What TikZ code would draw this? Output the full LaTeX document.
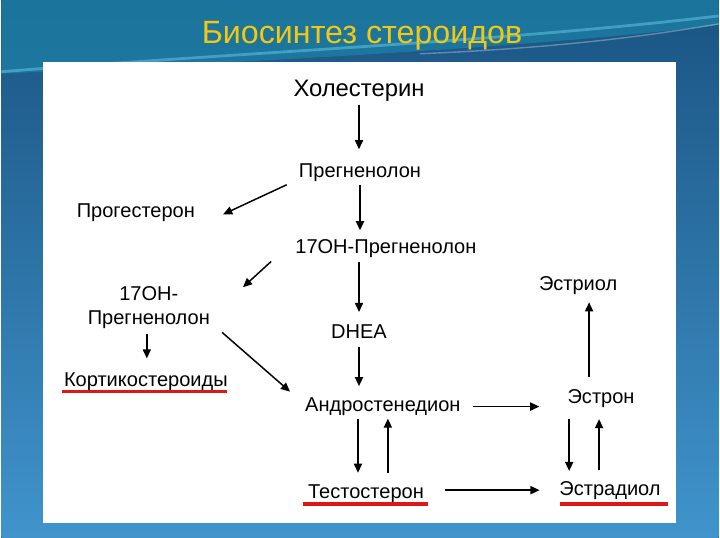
\documentclass[tikz,border=0pt]{standalone}
\usepackage{fontspec}
\setmainfont{Liberation Sans}
\usepackage{xcolor}
\usetikzlibrary{
  arrows.meta,
  calc
}

\definecolor{slideblue}{RGB}{26,84,130}
\definecolor{slidelight}{RGB}{64,148,204}
\definecolor{slideteal}{RGB}{28,128,164}
\definecolor{titlegold}{RGB}{242,200,18}
\definecolor{ulred}{RGB}{222,22,22}

\begin{document}
\begin{tikzpicture}[
  x=0.025cm, y=-0.025cm,
  font=\fontsize{14.3}{17.5}\selectfont,
  chem/.style={
    inner sep=0pt,
    anchor=base
  },
  arrow/.style={
    -{Triangle[length=6.5pt,width=5.8pt]},
    line width=1.05pt,
    draw=black
  },
  underl/.style={
    draw=ulred,
    line width=2.3pt
  }
]

% Background
\fill[top color=slideblue, bottom color=slidelight] (0,0) rectangle (720,540);
\fill[slideteal, opacity=0.75] (0,0) -- (720,0) -- (720,25) .. controls (560,45) and (300,60) .. (0,74) -- cycle;
\draw[cyan!55!white, opacity=0.45, line width=2pt] (0,72) .. controls (250,52) and (500,42) .. (720,16);
\draw[white, opacity=0.3, line width=1pt] (420,54) .. controls (560,48) and (650,36) .. (720,24);
\fill[white] (42,62) rectangle (677,525);

% Title
\node[font=\fontsize{23}{26}\selectfont, text=titlegold] (title) at (362,36) {Биосинтез стероидов};

% Main column
\node[chem, font=\fontsize{17}{20}\selectfont] (chol) at (359,97) {Холестерин};
\node[chem] (preg) at (360,178) {Прегненолон};
\node[chem] (ohp) at (386,254) {17OH-Прегненолон};
\node[chem] (dhea) at (359,340) {DHEA};
\node[chem] (andro) at (383,413) {Андростенедион};
\node[chem] (testo) at (366,500) {Тестостерон};

% Left branch
\node[chem] (prog) at (135,218) {Прогестерон};
\node[inner sep=0pt, align=center] (ohl) at (148,309) {17OH-\\Прегненолон};
\node[chem] (kort) at (145,388) {Кортикостероиды};

% Estrogens
\node[chem] (estriol) at (579,292) {Эстриол};
\node[chem] (estron) at (602,405) {Эстрон};
\node[chem] (estradiol) at (611,497) {Эстрадиол};

% Forward transitions
\draw[arrow, shorten <=2pt, shorten >=10pt] (chol.south) -- (chol.south |- preg.north);
\draw[arrow, shorten <=2pt, shorten >=6pt] (preg.south) -- (preg.south |- ohp.north);
\draw[arrow] ($(preg.south west)+(-12,3)$) -- ($(prog.east)+(28,2)$);
\draw[arrow] ($(ohp.south west)+(-24,4)$) -- ($(ohl.north east)+(33,1)$);
\draw[arrow, shorten <=3pt, shorten >=9pt] (dhea.north |- ohp.south) -- (dhea.north);
\draw[arrow, shorten <=6pt, shorten >=8pt] (dhea.south) -- (dhea.south |- andro.north);
\draw[arrow, shorten <=3pt, shorten >=10pt] ($(ohl.south)+(-2,0)$) -- ($(kort.north)+(1,0)$);
\draw[arrow] ($(ohl.south east)+(12,3)$) -- ($(andro.west)+(-15,-15)$);

% Androgens and estrogens
\draw[arrow, shorten <=2pt, shorten >=8pt] ($(andro.south)+(-25,0)$) -- ($(testo.north)+(-8,0)$);
\draw[arrow, shorten <=8pt, shorten >=2pt] ($(testo.north)+(22,0)$) -- ($(andro.south)+(5,0)$);
\draw[arrow, shorten <=8.5pt, shorten >=20pt] (andro.east) -- (andro.east -| estron.west);
\draw[arrow, shorten <=15pt, shorten >=14pt] (testo.east |- estradiol.west) -- (estradiol.west);
\draw[arrow, shorten <=8pt, shorten >=7pt] ($(estron.south)+(-32,0)$) -- ($(estradiol.north)+(-41,0)$);
\draw[arrow, shorten <=8pt, shorten >=8pt] ($(estradiol.north)+(-11,0)$) -- ($(estron.south)+(-2,0)$);
\draw[arrow, shorten <=9pt, shorten >=5pt] ($(estron.north)+(-12,0)$) -- ($(estriol.south)+(11,0)$);

% Underlines
\draw[underl] ($(kort.base west)+(-2,5)$) -- ($(kort.base east)+(-1,5)$);
\draw[underl] ($(testo.base west)+(-5,6)$) -- ($(testo.base east)+(4,6)$);
\draw[underl] ($(estradiol.base west)+(1,9)$) -- ($(estradiol.base east)+(7,9)$);

\end{tikzpicture}
\end{document}
